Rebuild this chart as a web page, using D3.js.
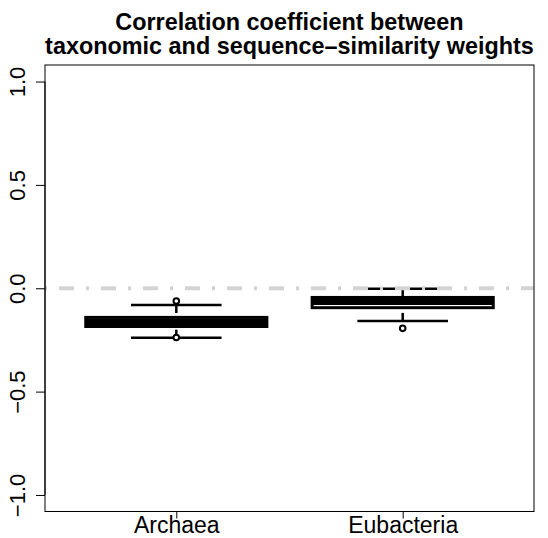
<!DOCTYPE html>
<html><head><meta charset="utf-8">
<script src="https://cdn.jsdelivr.net/npm/d3@7"></script>
<style>body{margin:0;background:#fff}svg{display:block}text{font-family:"Liberation Sans",Arial,Helvetica,sans-serif}</style>
</head><body>
<script>
const categories = ["Archaea", "Eubacteria"];
const whiskerLow = [-0.239, -0.158];
const q1 = [-0.185, -0.094];
const median = [-0.163, -0.064];
const q3 = [-0.141, -0.0445];
const whiskerHigh = [-0.081, -0.003];
const outliers = [[-0.0615, -0.238], [-0.194]];
const yTicks = [-1, -0.5, 0, 0.5, 1];
const refLine = 0;
const titleLines = ["Correlation coefficient between", "taxonomic and sequence\u2013similarity weights"];

const W = 548, H = 538;
const svg = d3.select("body").append("svg").attr("width", W).attr("height", H);
svg.append("rect").attr("width", W).attr("height", H).attr("fill", "#fff");

const x = d3.scaleLinear().domain([0.42, 2.58]).range([45, 534]);
const y = d3.scaleLinear().domain([-1.08, 1.08]).range([511.5, 65]);
const boxW = 0.8, capW = 0.4;

// boxes
const g = svg.append("g");
categories.forEach((c, i) => {
  const cx = i + 1;
  const gg = g.append("g");
  gg.append("line").attr("x1", x(cx)).attr("x2", x(cx))
    .attr("y1", y(whiskerHigh[i])).attr("y2", y(q3[i]))
    .attr("stroke", "#000").attr("stroke-width", 2.5).attr("stroke-dasharray", "8,8");
  gg.append("line").attr("x1", x(cx)).attr("x2", x(cx))
    .attr("y1", y(whiskerLow[i])).attr("y2", y(q1[i]))
    .attr("stroke", "#000").attr("stroke-width", 2.5).attr("stroke-dasharray", "8,8");
  [whiskerHigh[i], whiskerLow[i]].forEach(v => {
    gg.append("line").attr("x1", x(cx - capW / 2)).attr("x2", x(cx + capW / 2))
      .attr("y1", y(v)).attr("y2", y(v)).attr("stroke", "#000").attr("stroke-width", 2.5);
  });
  gg.append("rect").attr("x", x(cx - boxW / 2)).attr("width", x(cx + boxW / 2) - x(cx - boxW / 2))
    .attr("y", y(q3[i])).attr("height", y(q1[i]) - y(q3[i]))
    .attr("fill", "none").attr("stroke", "#000").attr("stroke-width", 3);
  gg.append("line").attr("x1", x(cx - boxW / 2)).attr("x2", x(cx + boxW / 2))
    .attr("y1", y(median[i])).attr("y2", y(median[i]))
    .attr("stroke", "#000").attr("stroke-width", 7);
  outliers[i].forEach(v => {
    gg.append("circle").attr("cx", x(cx)).attr("cy", y(v)).attr("r", 2.8)
      .attr("fill", "#fff").attr("stroke", "#000").attr("stroke-width", 2);
  });
});

// reference line
svg.append("line").attr("x1", 45).attr("x2", 534).attr("y1", y(refLine)).attr("y2", y(refLine))
  .attr("stroke", "#d3d3d3").attr("stroke-width", 4)
  .attr("stroke-dasharray", "15,12,3,12").attr("stroke-dashoffset", 28);

// plot box
svg.append("rect").attr("x", 45).attr("y", 65).attr("width", 489).attr("height", 446.5)
  .attr("fill", "none").attr("stroke", "#000").attr("stroke-width", 1);

// y axis
const yAxis = d3.axisLeft(y).tickValues(yTicks).tickSize(9)
  .tickFormat(d => d3.format(".1f")(d).replace("-", "\u2212"));
const ya = svg.append("g").attr("transform", "translate(45,0)").call(yAxis);
ya.select(".domain").attr("d", `M0,${y(-1)}V${y(1)}`).attr("stroke", "#000");
ya.selectAll(".tick line").attr("stroke", "#000");
ya.selectAll(".tick text").attr("x", null).attr("dy", null)
  .attr("transform", "translate(-20,0) rotate(-90)")
  .attr("text-anchor", "middle").attr("font-size", 22).attr("fill", "#000")
  .attr("font-family", "Liberation Sans, Arial, sans-serif");

// x axis
const xAxis = d3.axisBottom(x).tickValues([1, 2]).tickSize(7).tickFormat((d, i) => categories[i]);
const xa = svg.append("g").attr("transform", "translate(0,511.5)").call(xAxis);
xa.select(".domain").attr("d", `M${x(1)},0H${x(2)}`).attr("stroke", "#000");
xa.selectAll(".tick line").attr("stroke", "#000");
xa.selectAll(".tick text").attr("y", 21.5).attr("dy", null)
  .attr("font-size", 23).attr("fill", "#000")
  .attr("font-family", "Liberation Sans, Arial, sans-serif");

// title
titleLines.forEach((t, i) => {
  svg.append("text").attr("x", 289.5).attr("y", 30 + i * 24)
    .attr("text-anchor", "middle").attr("font-size", 23.4).attr("font-weight", "bold")
    .attr("fill", "#000").text(t);
});
</script>
</body></html>
